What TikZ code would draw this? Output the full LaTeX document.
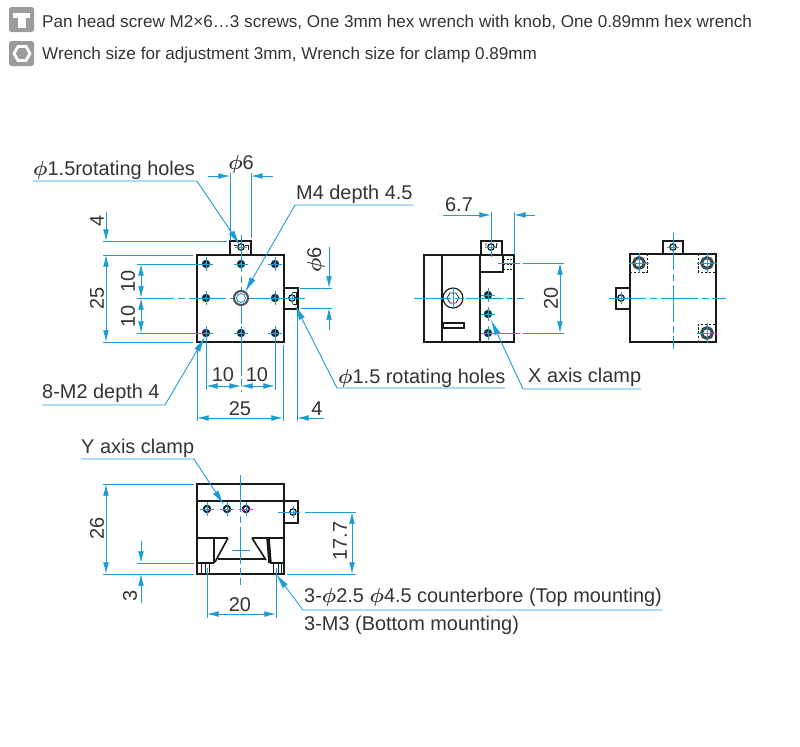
\documentclass[tikz,border=0pt]{standalone}
\usepackage{amsmath}
\usepackage{fontspec}
\setmainfont{Liberation Sans}
\usetikzlibrary{arrows.meta}
\definecolor{dimcol}{HTML}{1B9BD7}
\definecolor{inkcol}{HTML}{1A1A1A}
\definecolor{txtcol}{HTML}{333333}
\definecolor{iconcol}{HTML}{9B9B9B}
\newcommand{\dia}{$\boldsymbol{\phi}$}
\tikzset{
  body/.style={draw=inkcol, line width=2.1pt, line join=miter},
  fine/.style={draw=inkcol, line width=0.8pt},
  dimline/.style={draw=dimcol, line width=0.75pt, {Latex[length=10pt,width=5pt]}-{Latex[length=10pt,width=5pt]}},
  dimout/.style={draw=dimcol, line width=0.75pt, -{Latex[length=10pt,width=5pt]}},
  extline/.style={draw=dimcol, line width=0.75pt},
  leader/.style={draw=dimcol, line width=0.75pt, {Latex[length=13pt,width=5.5pt]}-},
  centre/.style={draw=dimcol, line width=0.8pt, dash pattern=on 32pt off 3pt on 6pt off 3pt},
  label/.style={text=txtcol, font=\fontsize{17pt}{19pt}\selectfont, inner sep=0pt},
  headline/.style={text=txtcol, font=\fontsize{14.6pt}{16pt}\selectfont, inner sep=0pt, anchor=west},
  holemark/.pic={
    \fill[inkcol!85!dimcol] (0,0) circle (4.2);
    \fill[white] (0,0) circle (1);
    \draw[extline] (-7,0) -- (7,0) (0,-7) -- (0,7);
  },
  tabhole/.pic={
    \draw[inkcol, line width=1.1pt] (0,0) circle (3.2);
    \draw[extline] (-6,0) -- (6,0) (0,-6) -- (0,6);
  },
  clamphole/.pic={
    \draw[inkcol, line width=1.7pt] (0,0) circle (3.2);
    \draw[extline] (-7,0) -- (7,0) (0,-7) -- (0,7);
  },
  ringhole/.pic={
    \draw[inkcol!80, line width=2.6pt] (0,0) circle (5.4);
    \draw[extline] (-10,0) -- (10,0) (0,-10) -- (0,10);
  },
}
\begin{document}
\begin{tikzpicture}[x=0.03cm, y=-0.03cm]
\useasboundingbox (0,0) rectangle (800,747);

% header
\fill[iconcol, rounded corners=1.5pt] (9,7) rectangle (34,32);
\fill[white] (13,13) rectangle (30,18);
\fill[white] (18,18) rectangle (26,28);
\fill[iconcol, rounded corners=1.5pt] (9,41) rectangle (34,66);
\draw[white, line width=2.4pt] (14,53.5) -- (18,46.5) -- (26,46.5) -- (30,53.5) -- (26,60.5) -- (18,60.5) -- cycle;
\node[headline] (textA) at (42,22) {Pan head screw M2×6…3 screws, One 3mm hex wrench with knob, One 0.89mm hex wrench};
\node[headline] (textB) at (42,55) {Wrench size for adjustment 3mm, Wrench size for clamp 0.89mm};

% top view
\coordinate (topA) at (197,255);
\coordinate (topC) at (284,342);
\draw[body] (230,255) -- (230,241) -- (251,241) -- (251,255);
\draw[body] (284,288) -- (298,288) -- (298,309) -- (284,309);
\draw[body] (topA) rectangle (topC);
\draw[centre] (137,298) -- (305,298);
\draw[centre] (241,235) -- (241,392);
\foreach \x in {206,241,275}
  \foreach \y in {264,298,333}
    \pic at (\x,\y) {holemark};
\fill[white] (241,298) circle (7.5);
\draw[inkcol!75, line width=1.8pt] (241,298) circle (7);
\draw[dimcol, line width=0.8pt] (241,298) circle (4.5);
\pic at (241,247) {tabhole};
\pic at (292,298) {tabhole};
\draw[fine] (234,245) -- (237,245) (245,245) -- (248,245) (248,245) -- (248,250) (296,292) -- (296,304) -- (293,304) (296,292) -- (293,292);

% dimensions of top view
\coordinate (phiL) at (230,176);
\coordinate (phiR) at (251,176);
\draw[extline] (230,241) -- (230,173) (251,238) -- (251,173);
\draw[dimout] (208,176) -- (phiL);
\draw[dimout] (273,176) -- (phiR);
\node[label] (phiTop) at (241,164) {\dia6};

\draw[extline] (103,241) -- (227,241) (103,255) -- (193,255) (103,342) -- (193,342);
\coordinate (fourT) at (106,241);
\coordinate (fourB) at (106,255);
\coordinate (fiveB) at (106,342);
\draw[dimout] (106,212) -- (fourT);
\draw[dimline] (fourB) -- (fiveB);
\node[label, rotate=90] (fourL) at (97,221) {4};
\node[label, rotate=90] (fiveL) at (97,298) {25};

\draw[extline] (137,264) -- (200,264) (137,333) -- (200,333);
\coordinate (tenT) at (141,264);
\coordinate (tenM) at (141,298);
\coordinate (tenB) at (141,333);
\draw[dimline] (tenT) -- (tenM);
\draw[dimline] (tenM) -- (tenB);
\node[label, rotate=90] (tenLa) at (128,281) {10};
\node[label, rotate=90] (tenLb) at (128,316) {10};

\draw[extline] (300,288) -- (332,288) (301,308) -- (332,308);
\coordinate (phiU) at (329,288);
\coordinate (phiD) at (329,308);
\draw[dimout] (329,247) -- (phiU);
\draw[dimout] (329,330) -- (phiD);
\node[label, rotate=90] (phiSide) at (316,260) {\dia6};

\draw[extline] (206,340) -- (206,390) (275,340) -- (275,390);
\coordinate (botA) at (206,386);
\coordinate (botB) at (241,386);
\coordinate (botC) at (275,386);
\draw[dimline] (botA) -- (botB);
\draw[dimline] (botB) -- (botC);
\node[label] (botLa) at (223,375) {10};
\node[label] (botLb) at (257,375) {10};

\draw[extline] (197,345) -- (197,421) (283,345) -- (283,421) (297,312) -- (297,421);
\coordinate (wideA) at (197,418);
\coordinate (wideB) at (283,418);
\coordinate (wideC) at (297,418);
\draw[dimline] (wideA) -- (wideB);
\draw[dimout] (324,418) -- (wideC);
\node[label] (wideL) at (240,409) {25};
\node[label] (fourR) at (317,409) {4};

% leaders of top view
\coordinate (rotTip) at (240,245);
\coordinate (rotBend) at (197,181);
\coordinate (rotEnd) at (33,181);
\draw[leader] (rotTip) -- (rotBend) -- (rotEnd);
\node[label, anchor=west] (rotL) at (33,170) {\dia1.5rotating holes};

\coordinate (mfourTip) at (245,292);
\coordinate (mfourBend) at (295,205);
\coordinate (mfourEnd) at (413,205);
\draw[leader] (mfourTip) -- (mfourBend) -- (mfourEnd);
\node[label, anchor=west] (mfourL) at (296,194) {M4 depth 4.5};

\coordinate (eightTip) at (205,337);
\coordinate (eightBend) at (165,405);
\coordinate (eightEnd) at (42,405);
\draw[leader] (eightTip) -- (eightBend) -- (eightEnd);
\node[label, anchor=west] (eightL) at (42,393) {8-M2 depth 4};

\coordinate (sideTip) at (295,305);
\coordinate (sideBend) at (337,388);
\coordinate (sideEnd) at (505,388);
\draw[leader] (sideTip) -- (sideBend) -- (sideEnd);
\node[label, anchor=west] (sideL) at (338,378) {\dia1.5 rotating holes};

% side view
\draw[body] (481,255) -- (481,241) -- (502,241) -- (502,255);
\draw[body] (424,255) rectangle (514,342);
\draw[body] (442,255) -- (442,342);
\draw[body] (480,255) -- (480,342);
\draw[body] (480,272) -- (503,272) -- (503,255);
\draw[body] (443,323) rectangle (464,328);
\draw[inkcol, line width=1pt] (453,298) circle (10);
\draw[inkcol, line width=0.6pt] (459,298) -- (456,303) -- (450,303) -- (447,298) -- (450,293) -- (456,293) -- cycle;
\draw[fine, dash pattern=on 2pt off 1pt] (503,259) -- (514,259) (503,264) -- (514,264) (503,269) -- (514,269);
\draw[centre] (414,298) -- (524,298);
\draw[extline] (453,287) -- (453,309);
\foreach \y in {295,314,333}
  \pic at (488,\y) {holemark};
\pic at (491,247) {tabhole};
\draw[fine] (486,243) -- (486,246) (497,243) -- (496,248);

% dimensions of side view
\draw[extline] (491,212) -- (491,257) (514,212) -- (514,255);
\coordinate (sevenL) at (491,215);
\coordinate (sevenR) at (514,215);
\draw[dimout] (443,215) -- (sevenL);
\draw[dimout] (535,215) -- (sevenR);
\node[label] (sevenT) at (459,205) {6.7};

\draw[extline] (498,263) -- (520,263) (523,263) -- (564,263) (497,333) -- (520,333) (523,333) -- (564,333);
\coordinate (twoT) at (560,263);
\coordinate (twoB) at (560,333);
\draw[dimline] (twoT) -- (twoB);
\node[label, rotate=90] (twoL) at (551,298) {20};

\coordinate (xTip) at (491,320);
\coordinate (xBend) at (523,389);
\coordinate (xEnd) at (641,389);
\draw[leader] (xTip) -- (xBend) -- (xEnd);
\node[label, anchor=west] (xL) at (528,377) {X axis clamp};

% back view
\draw[body] (663,254) -- (663,241) -- (683,241) -- (683,254);
\draw[body] (630,288) -- (616,288) -- (616,309) -- (630,309);
\draw[body] (630,254) rectangle (716,342);
\draw[fine, dash pattern=on 2pt off 1.5pt] (647,254) -- (647,272) -- (630,272)
  (698,254) -- (698,272) -- (716,272) (698,342) -- (698,324) -- (716,324);
\draw[centre] (609,298) -- (726,298);
\draw[centre] (673,233) -- (673,349);
\foreach \p in {(639,263),(707,263),(707,333)}
  \pic at \p {ringhole};
\pic at (673,247) {tabhole};
\pic at (621,298) {tabhole};

% front view
\draw[body] (284,501) -- (298,501) -- (298,523) -- (284,523);
\draw[body] (197,484) rectangle (284,574);
\draw[body] (197,501) -- (284,501);
\draw[body] (197,538) -- (228,538) (252,538) -- (284,538);
\draw[body] (197,563) -- (214,563) (270,563) -- (284,563);
\draw[body, line width=1.4pt] (214,538) -- (214,563) (228,538) -- (215,562);
\draw[body, line width=1.4pt] (252,538) -- (266,560) (218,559) -- (265,559);
\draw[inkcol, line width=3pt] (268,538) -- (270,563);
\foreach \x in {201,205,209} \draw[fine] (\x,564) -- (\x,574);
\foreach \x in {273,278,281} \draw[fine] (\x,564) -- (\x,574);
\draw[centre] (240,475) -- (240,585);
\draw[extline] (232,550) -- (250,550);
\foreach \x in {207,227,246}
  \pic at (\x,509) {clamphole};
\pic at (293,512) {tabhole};

% dimensions of front view
\draw[extline] (103,484) -- (194,484) (103,574) -- (194,574);
\coordinate (hgtT) at (106,484);
\coordinate (hgtB) at (106,574);
\draw[dimline] (hgtT) -- (hgtB);
\node[label, rotate=90] (hgtL) at (97,528) {26};

\draw[extline] (137,563) -- (194,563);
\coordinate (threeT) at (141,563);
\coordinate (threeB) at (141,574);
\draw[dimout] (141,541) -- (threeT);
\draw[dimout] (141,603) -- (threeB);
\node[label, rotate=90] (threeL) at (130,596) {3};

\draw[extline] (207,568) -- (207,618) (276,568) -- (276,618);
\coordinate (spanA) at (207,614);
\coordinate (spanB) at (276,614);
\draw[dimline] (spanA) -- (spanB);
\node[label] (spanL) at (240,605) {20};

\draw[extline] (278,512) -- (300,512) (305,512) -- (356,512) (287,574) -- (356,574);
\coordinate (tallT) at (352,512);
\coordinate (tallB) at (352,574);
\draw[dimline] (tallT) -- (tallB);
\node[label, rotate=90] (tallL) at (340,541) {17.7};

\coordinate (yTip) at (224,505);
\coordinate (yBend) at (194,459);
\coordinate (yEnd) at (81,459);
\draw[leader] (yTip) -- (yBend) -- (yEnd);
\node[label, anchor=west] (yL) at (81,448) {Y axis clamp};

\coordinate (boreTip) at (276,574);
\coordinate (boreBend) at (303,610);
\coordinate (boreEnd) at (662,610);
\draw[leader] (boreTip) -- (boreBend) -- (boreEnd);
\node[label, anchor=west] (boreL) at (304,597) {3-\dia2.5 \dia4.5 counterbore (Top mounting)};
\node[label, anchor=west] (boreM) at (304,625) {3-M3 (Bottom mounting)};

\end{tikzpicture}
\end{document}
